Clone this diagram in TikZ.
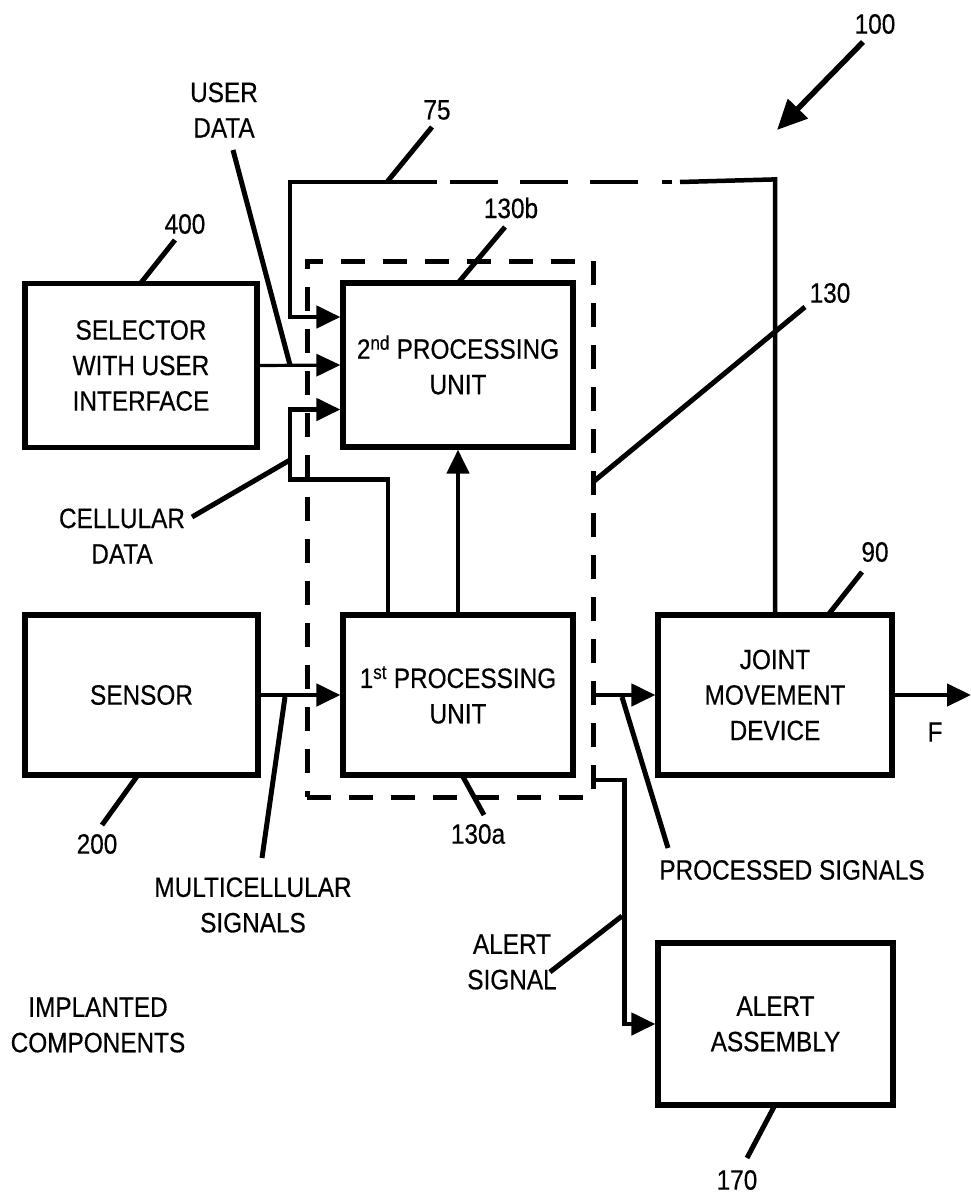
\documentclass[tikz,border=0pt]{standalone}
\usepackage{fontspec}
\setmainfont{Liberation Sans}[FakeStretch=0.87,FakeBold=0.4]
\usetikzlibrary{arrows.meta,calc}
\newcommand\dfont{\fontsize{28}{35.5}\selectfont}
\begin{document}
\begin{tikzpicture}[x=1pt,y=-1pt,
  box/.style={draw,line width=5.2pt,align=center,inner sep=0pt,font=\dfont},
  lbl/.style={align=center,inner sep=0pt,font=\dfont},
  conn/.style={line width=4.5pt},
  thinconn/.style={line width=3.2pt},
  leader/.style={line width=5pt},
  tip/.tip={Triangle[length=24pt,width=22pt]},
  bigtip/.tip={Triangle[length=30pt,width=27pt]}]
\useasboundingbox[fill=white] (0,0) rectangle (971,1194);

% boxes
\node[box,minimum width=232pt,minimum height=164pt] (sel) at (141,365.5) {SELECTOR\\WITH USER\\INTERFACE};
\node[box,minimum width=233pt,minimum height=160pt] (sen) at (141.5,695) {SENSOR};
\node[box,minimum width=230pt,minimum height=164pt] (p2) at (458,365) {2\textsuperscript{nd} PROCESSING\\UNIT};
\node[box,minimum width=230pt,minimum height=160pt] (p1) at (458,695) {1\textsuperscript{st} PROCESSING\\UNIT};
\node[box,minimum width=234pt,minimum height=160pt] (jmd) at (775,695) {JOINT\\MOVEMENT\\DEVICE};
\node[box,minimum width=235pt,minimum height=162pt] (al) at (775.5,1024) {ALERT\\ASSEMBLY};
\node[draw,line width=5pt,dash pattern=on 24pt off 18pt,inner sep=0pt,minimum width=286pt,minimum height=536pt] (g) at (450,529) {};

% labels
\node[lbl] (l100) at (875,24) {100};
\node[lbl] (luser) at (224,110) {USER\\DATA};
\node[lbl] (l75) at (437,110) {75};
\node[lbl] (l130b) at (511,208) {130b};
\node[lbl] (l400) at (185,224) {400};
\node[lbl] (l130) at (830,293) {130};
\node[lbl] (lcell) at (122,536) {CELLULAR\\DATA};
\node[lbl] (l90) at (875,552) {90};
\node[lbl] (lF) at (935,732) {F};
\node[lbl] (l200) at (97,844) {200};
\node[lbl] (l130a) at (478,834) {130a};
\node[lbl] (lmulti) at (253,905) {MULTICELLULAR\\SIGNALS};
\node[lbl] (lproc) at (792,870) {PROCESSED SIGNALS};
\node[lbl] (lalert) at (512,962) {ALERT\\SIGNAL};
\node[lbl] (limpl) at (98,1025) {IMPLANTED\\COMPONENTS};
\node[lbl] (l170) at (737,1180) {170};

% loop 75
\coordinate (tr) at ($(jmd.north)+(0,-433)$);
\coordinate (d1) at (680,182);
\coordinate (d2) at (437,182);
\coordinate (tl) at (290,182);
\draw[conn] (jmd.north) -- (tr) -- (d1);
\draw[conn,dash pattern=on 0pt off 8pt on 10pt off 24pt on 48pt off 22pt on 48pt off 22pt on 48pt off 13pt] (d1) -- (d2);
\draw[conn,-tip] (d2) -- (tl) |- ($(p2.west)+(0,-48)$);

% inputs to 2nd unit
\draw[thinconn,-tip] (sel.east) -- (p2.west);
\coordinate (c1) at ($(p1.north)+(-70,0)$);
\draw[conn,-tip] (c1) -- ++(0,-133) -- ++(-98,0) |- ($(p2.west)+(0,44.5)$);
\draw[conn,-tip] (p1.north) -- (p2.south);

% sensor to 1st
\draw[conn,-tip] (sen.east) -- (p1.west);

% outputs
\draw[conn,-tip] (g.east |- jmd.west) -- (jmd.west);
\coordinate (a0) at ($(g.east)+(0,251)$);
\draw[conn,-tip] (a0) -- ++(29,0) |- (al.west);
\coordinate (fend) at (971,695);
\draw[conn,-tip] (jmd.east) -- (fend);

% 100 arrow
\coordinate (s100) at (863,42);
\coordinate (e100) at (777,130);
\draw[line width=5.5pt,-bigtip] (s100) -- (e100);

% leaders
\draw[leader] (432,127) -- (387,182);
\draw[leader] (505,227) -- (458,283);
\draw[leader] (175,240) -- (140,284);
\draw[leader] (233,150) -- (290,365);
\draw[leader] (805,307) -- (593,482);
\draw[leader] (192,517) -- (290,460);
\draw[leader] (102,825) -- (138,775);
\draw[leader] (285,697) -- (262,858);
\draw[leader] (462,775) -- (484,815);
\draw[leader] (862,572) -- (828,615);
\draw[leader] (622,697) -- (668,848);
\draw[leader] (550,972) -- (622,916);
\draw[leader] (747,1158) -- (775,1105);
\end{tikzpicture}
\end{document}
